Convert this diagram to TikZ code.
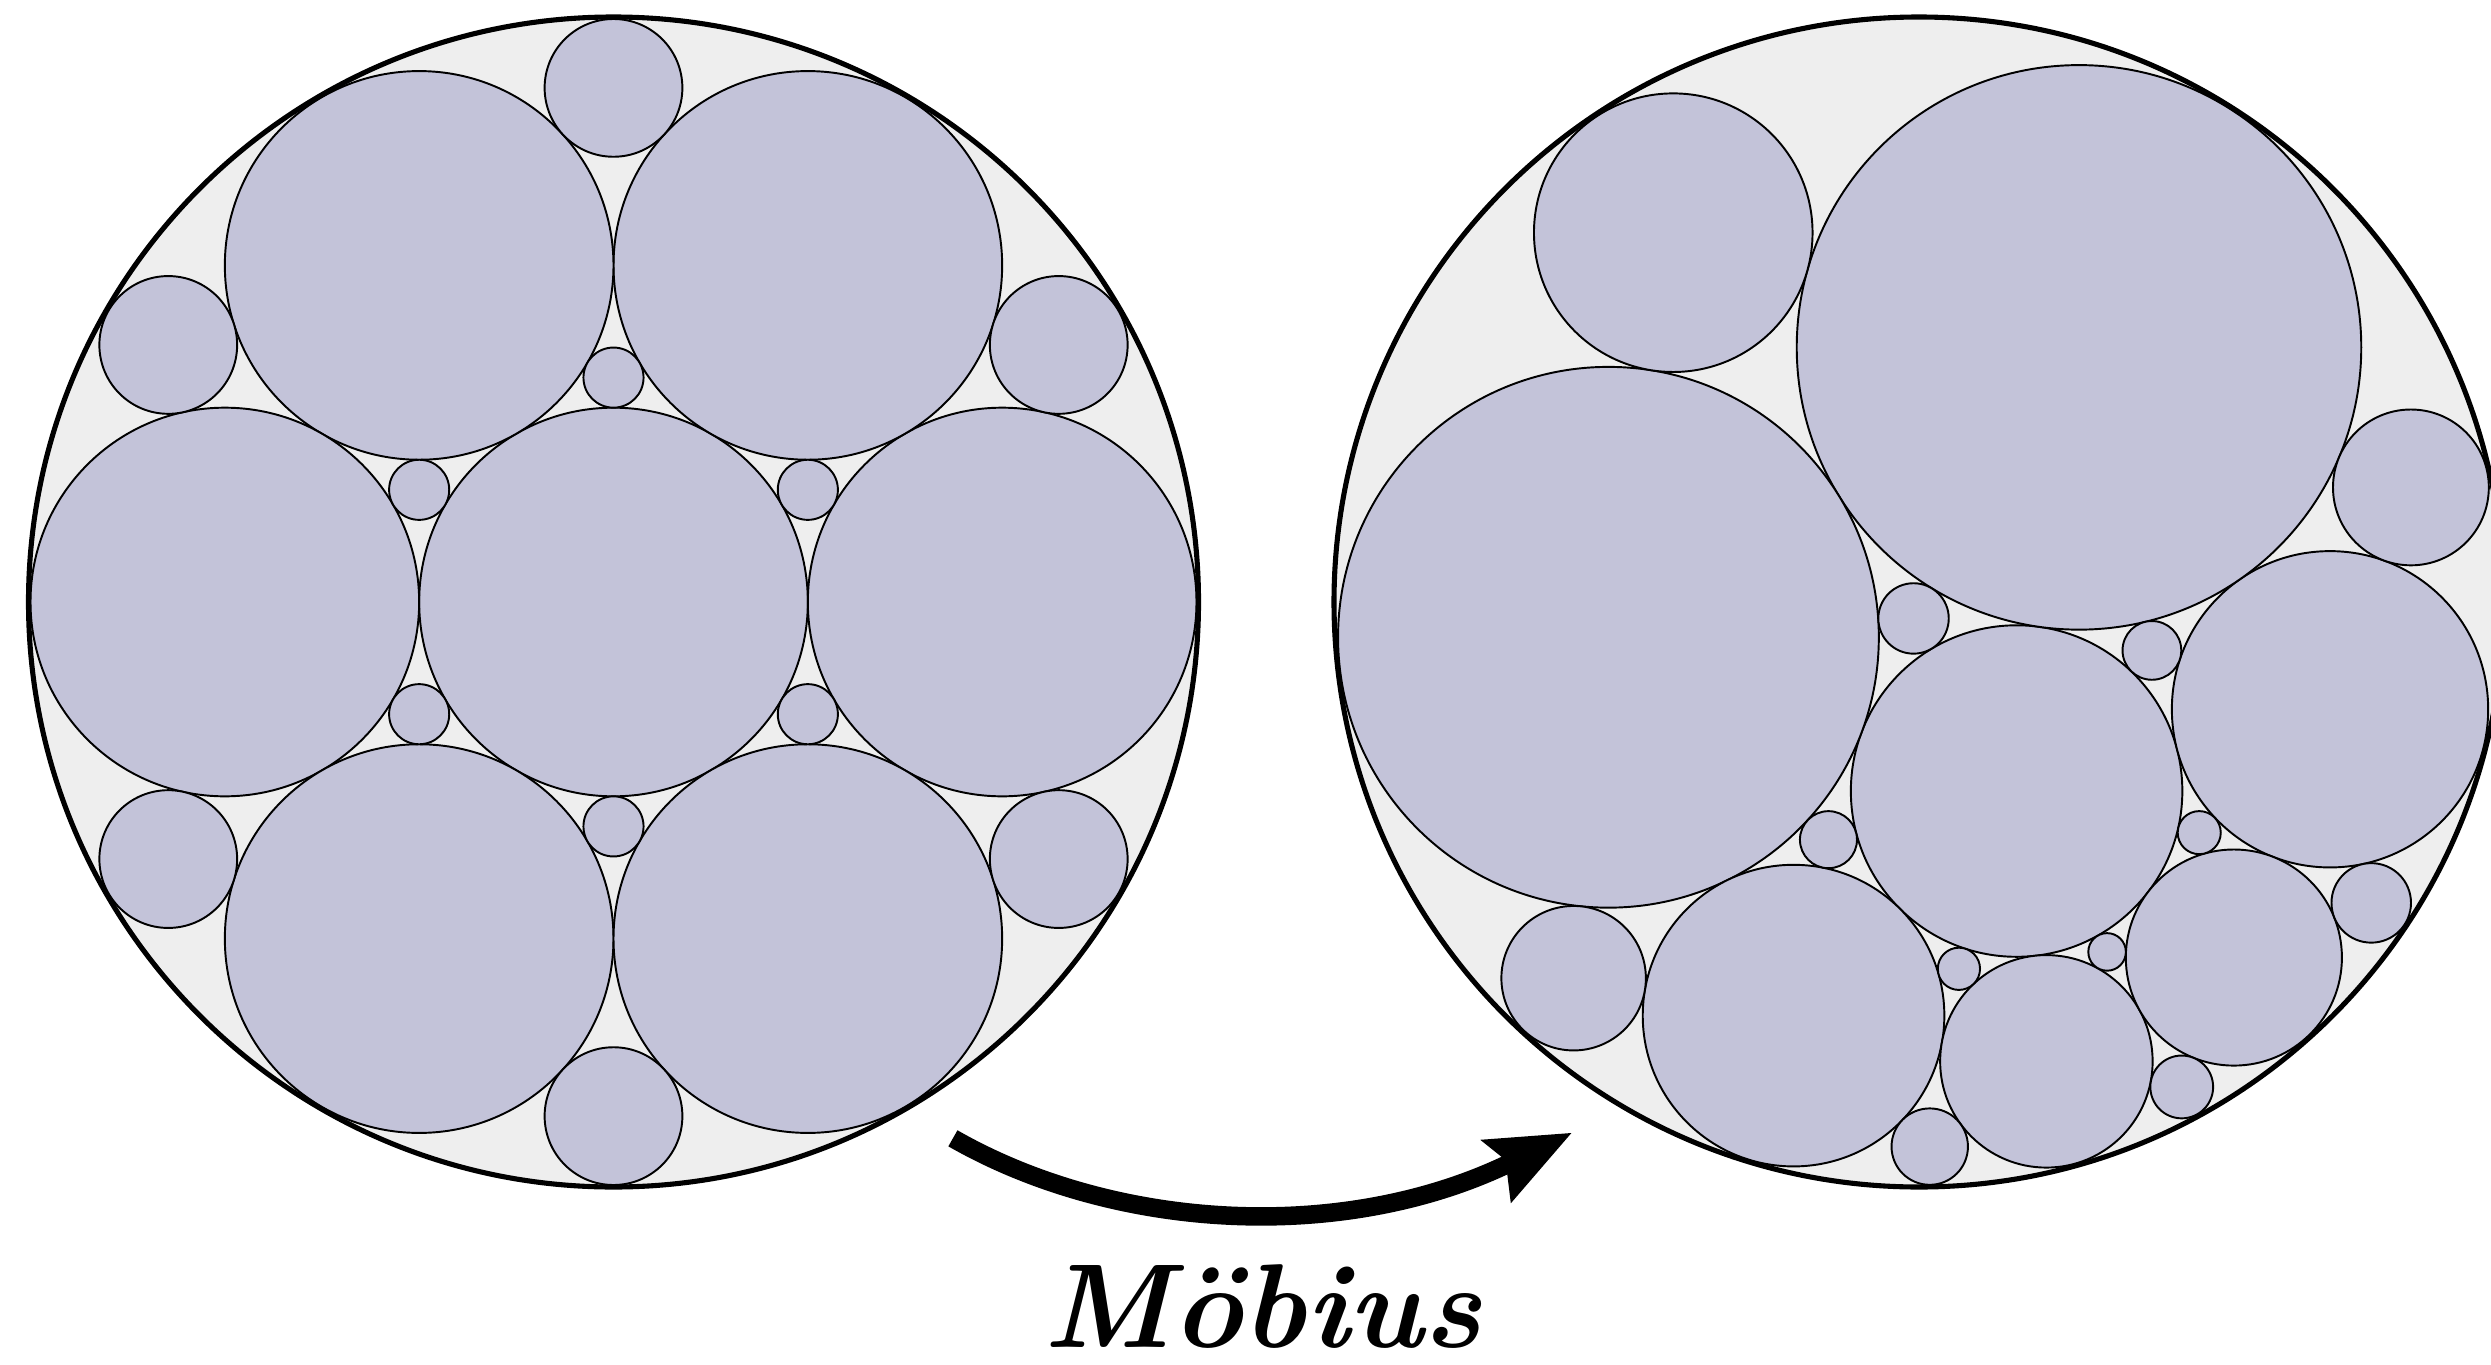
\documentclass[tikz,border=0pt]{standalone}
\usepackage{fontspec}
\definecolor{lav}{RGB}{195,195,217}
\definecolor{bgray}{RGB}{238,238,238}
\tikzset{
  pack/.style={fill=lav, draw=black, line width=0.55pt},
  rim/.style={draw=black, line width=1.45pt},
  diskbg/.style={fill=bgray},
  shaft/.style={draw=black, line width=0.185cm},
  headtip/.style={fill=black},
  lbl/.style={font=\fontsize{34}{40}\selectfont\bfseries\itshape, anchor=base, inner sep=0pt}
}
% Moebius parameters (unit disk): w = (z+b)/(1+conj(b) z), preimage rotated by 30 deg
\def\bx{0.18488}
\def\by{-0.35820}
\def\Ru{5.83}
\def\lcx{6.135}\def\lcy{7.62}
\def\rcx{19.19}\def\rcy{7.62}
\newcommand\mobmap[2]{%
  \pgfmathsetmacro\mPx{#1}%
  \pgfmathsetmacro\mPy{#2}%
  \pgfmathsetmacro\mNx{\mPx+(\bx)}%
  \pgfmathsetmacro\mNy{\mPy+(\by)}%
  \pgfmathsetmacro\mDx{1+(\bx)*(\mPx)+(\by)*(\mPy)}%
  \pgfmathsetmacro\mDy{(\bx)*(\mPy)-(\by)*(\mPx)}%
  \pgfmathsetmacro\mDen{(\mDx)*(\mDx)+(\mDy)*(\mDy)}%
  \pgfmathsetmacro\mfx{((\mNx)*(\mDx)+(\mNy)*(\mDy))/\mDen}%
  \pgfmathsetmacro\mfy{((\mNy)*(\mDx)-(\mNx)*(\mDy))/\mDen}%
}
\newcommand\mobcirc[3]{%
  \pgfmathsetmacro\mzx{(#2)*cos(#1)}%
  \pgfmathsetmacro\mzy{(#2)*sin(#1)}%
  \pgfmathsetmacro\mdx{\mzx-(\mpx)}%
  \pgfmathsetmacro\mdy{\mzy-(\mpy)}%
  \pgfmathsetmacro\mdl{sqrt((\mdx)*(\mdx)+(\mdy)*(\mdy))}%
  \pgfmathsetmacro\mux{(#3)*(\mdx)/\mdl}%
  \pgfmathsetmacro\muy{(#3)*(\mdy)/\mdl}%
  \mobmap{\mzx+(\mux)}{\mzy+(\muy)}%
  \let\mfax\mfx \let\mfay\mfy
  \mobmap{\mzx-(\mux)}{\mzy-(\muy)}%
  \pgfmathsetmacro\mcx{(\mfax+(\mfx))/2}%
  \pgfmathsetmacro\mcy{(\mfay+(\mfy))/2}%
  \pgfmathsetmacro\mrad{sqrt((\mfax-(\mfx))*(\mfax-(\mfx))+(\mfay-(\mfy))*(\mfay-(\mfy)))/2}%
  \path[pack] (\rcx+\Ru*\mcx, \rcy+\Ru*\mcy) circle ({\Ru*\mrad});%
}
\begin{document}
\begin{tikzpicture}
  \pgfmathsetmacro\mbt{(\bx)*(\bx)+(\by)*(\by)}
  \pgfmathsetmacro\mpx{-(\bx)/\mbt}
  \pgfmathsetmacro\mpy{-(\by)/\mbt}
  \clip (0,0) rectangle (24.91,13.64);
  \fill[white] (0,0) rectangle (24.91,13.64);
  \coordinate (lc) at (\lcx,\lcy);
  \coordinate (rc) at (\rcx,\rcy);
  % ---------- left packing ----------
  \fill[diskbg] (lc) circle (5.85);
  \path[pack] (lc) circle ({\Ru/3});
  \foreach \a in {0,60,...,300} {
    \path[pack] (lc) ++(\a:{2*\Ru/3}) circle ({\Ru/3});
  }
  \foreach \a in {30,90,...,330} {
    \path[pack] (lc) ++(\a:{0.881853*\Ru}) circle ({0.118147*\Ru});
    \path[pack] (lc) ++(\a:{0.384900*\Ru}) circle ({0.051567*\Ru});
  }
  \draw[rim] (lc) circle (5.85);
  % ---------- right packing (Moebius image) ----------
  \fill[diskbg] (rc) circle (5.85);
  \mobcirc{0}{0}{0.333333}
  \foreach \a in {30,90,...,330} {
    \mobcirc{\a}{0.666667}{0.333333}
  }
  \foreach \a in {0,60,...,300} {
    \mobcirc{\a}{0.881853}{0.118147}
    \mobcirc{\a}{0.384900}{0.051567}
  }
  \draw[rim] (rc) circle (5.85);
  % ---------- arrow ----------
  \coordinate (tail) at (9.529,2.257);
  \coordinate (send) at (15.18,2.05);
  \coordinate (tip) at (15.714,2.31);
  \coordinate (hl) at (14.802,2.242);
  \coordinate (hn) at (15.055,2.04);
  \coordinate (hr) at (15.108,1.607);
  \draw[shaft] (tail) .. controls (11.166,1.319) and (13.497,1.196) .. (send);
  \fill[headtip] (tip) -- (hl) -- (hn) -- (hr) -- cycle;
  \node[lbl] (mob) at (12.626,0.17) {Möbius};
\end{tikzpicture}
\end{document}
